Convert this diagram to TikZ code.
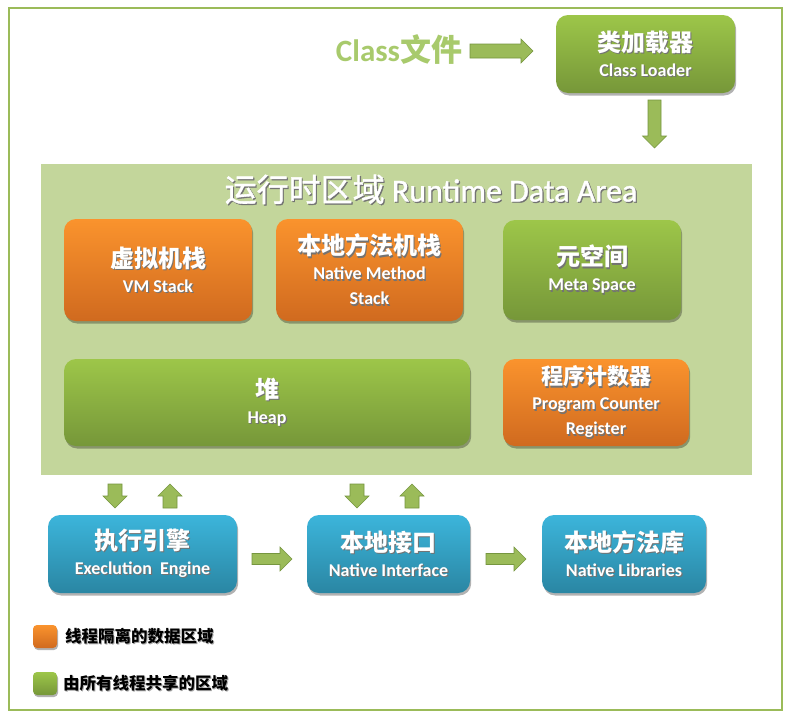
\documentclass[tikz,border=0pt]{standalone}
\usepackage{fontspec}
\setmainfont{Carlito}
\newfontfamily\cjk{Noto Sans CJK SC}
\newfontfamily\titlecjk{Noto Sans CJK SC}[FakeBold=1.2]
\newfontfamily\titlelat{Carlito}[FakeBold=1.2]
\usetikzlibrary{shadows}
\definecolor{frameg}{HTML}{9BBB59}
\definecolor{areag}{HTML}{C3D69B}
\definecolor{classg}{HTML}{A8CA6C}
\definecolor{gtop}{HTML}{9DC649}
\definecolor{gbot}{HTML}{769739}
\definecolor{otop}{HTML}{FA932D}
\definecolor{obot}{HTML}{D06A1F}
\definecolor{btop}{HTML}{3CB5DB}
\definecolor{bbot}{HTML}{2A86A3}
\definecolor{arrf}{HTML}{9BBB59}
\definecolor{arrd}{HTML}{76963F}
\newcommand\sh[1]{\leavevmode\rlap{\kern1.2pt\raisebox{-1.2pt}{\color{black!55}#1}}{#1}}
\newcommand\shl[1]{\leavevmode\rlap{\kern1pt\raisebox{-1pt}{\color{black!35}#1}}{#1}}
\newcommand\rarr[4]{\draw[blk] (#1,#3-#4) -- (#2-12,#3-#4) -- (#2-12,#3-12) -- (#2,#3) -- (#2-12,#3+12) -- (#2-12,#3+#4) -- (#1,#3+#4) -- cycle;}
\newcommand\darr[4]{\draw[blk] (#1-#4,#2) -- (#1-#4,#3-12) -- (#1-12,#3-12) -- (#1,#3) -- (#1+12,#3-12) -- (#1+#4,#3-12) -- (#1+#4,#2) -- cycle;}
\newcommand\uarr[4]{\draw[blk] (#1-#4,#3) -- (#1-#4,#2+12) -- (#1-12,#2+12) -- (#1,#2) -- (#1+12,#2+12) -- (#1+#4,#2+12) -- (#1+#4,#3) -- cycle;}
\tikzset{
  blk/.style={fill=arrf, draw=arrd, line width=0.6pt, line join=miter},
  box/.style={rounded corners=12pt, inner sep=0pt, text=white, align=center,
    font=\bfseries\fontsize{18}{25}\selectfont,
    drop shadow={shadow xshift=1.2pt, shadow yshift=-2.5pt, opacity=0.3, fill=black}},
  gbox/.style={box, top color=gtop, bottom color=gbot},
  obox/.style={box, top color=otop, bottom color=obot},
  bbox/.style={box, top color=btop, bottom color=bbot},
}
\newcommand\zh[1]{{\cjk\fontsize{24}{25}\selectfont #1}}
\begin{document}
\begin{tikzpicture}[x=1pt,y=-1pt]
\useasboundingbox (0,0) rectangle (792,718);
\fill[white] (0,0) rectangle (792,718);
\draw[frameg, line width=2.5pt] (9,8) rectangle (782,710);

% class file and loader
\node[text=classg, font=\bfseries\fontsize{31}{31}\selectfont, inner sep=0pt] (cls) at (399,50) {Class{\cjk 文件}};
\node[gbox, minimum width=179pt, minimum height=78pt] (cl) at (645.5,54) {\sh{\zh{类加载器}}\\\sh{Class Loader}};
\rarr{470}{533}{51}{7}
\darr{654.5}{100}{148}{6.5}

% runtime data area
\fill[areag] (41,164) rectangle (752,475);
\node[text=white, font=\titlelat\fontsize{32}{32}\selectfont, inner sep=0pt] (title) at (431,190) {\sh{{\titlecjk 运行时区域} Runtime Data Area}};

\node[obox, minimum width=188pt, minimum height=102pt] (vms) at (158,270) {\sh{\zh{虚拟机栈}}\\\sh{VM Stack}};
\node[obox, minimum width=187pt, minimum height=102pt] (nms) at (369.5,270) {\sh{\zh{本地方法机栈}}\\\sh{Native Method}\\\sh{Stack}};
\node[gbox, minimum width=178pt, minimum height=100pt] (meta) at (592,270) {\sh{\zh{元空间}}\\\sh{Meta Space}};
\node[gbox, minimum width=406pt, minimum height=87pt] (heap) at (267,402.5) {\sh{\zh{堆}}\\\sh{Heap}};
\node[obox, minimum width=186pt, minimum height=87pt] (pc) at (596,402.5) {\sh{{\cjk\fontsize{22}{25}\selectfont 程序计数器}}\\\sh{Program Counter}\\\sh{Register}};

% arrows between area and engine / interface
\darr{115}{484}{508}{7}
\uarr{170}{484}{508}{7}
\darr{357}{484}{508}{7}
\uarr{412}{484}{508}{7}

% bottom row
\node[bbox, minimum width=189pt, minimum height=78pt] (ee) at (142.5,554) {\sh{\zh{执行引擎}}\\\sh{Execlution~ Engine}};
\node[bbox, minimum width=163pt, minimum height=78pt] (ni) at (388.5,554) {\sh{\zh{本地接口}}\\\sh{Native Interface}};
\node[bbox, minimum width=164pt, minimum height=78pt] (nl) at (624,554) {\sh{\zh{本地方法库}}\\\sh{Native Libraries}};
\rarr{252}{292}{559}{5.5}
\rarr{486}{526}{559}{5.5}

% legend
\node[rounded corners=4pt, minimum width=24pt, minimum height=23pt, inner sep=0pt, top color=otop, bottom color=obot,
  drop shadow={shadow xshift=1pt, shadow yshift=-2pt, opacity=0.3, fill=black}] (lo) at (45,636.5) {};
\node[rounded corners=4pt, minimum width=24pt, minimum height=23pt, inner sep=0pt, top color=gtop, bottom color=gbot,
  drop shadow={shadow xshift=1pt, shadow yshift=-2pt, opacity=0.3, fill=black}] (lg) at (45,683.5) {};
\node[anchor=west, inner sep=0pt, font=\cjk\bfseries\fontsize{16.5}{17}\selectfont] (lot) at (65,637) {\shl{线程隔离的数据区域}};
\node[anchor=west, inner sep=0pt, font=\cjk\bfseries\fontsize{16.5}{17}\selectfont] (lgt) at (63,684) {\shl{由所有线程共享的区域}};
\end{tikzpicture}
\end{document}
